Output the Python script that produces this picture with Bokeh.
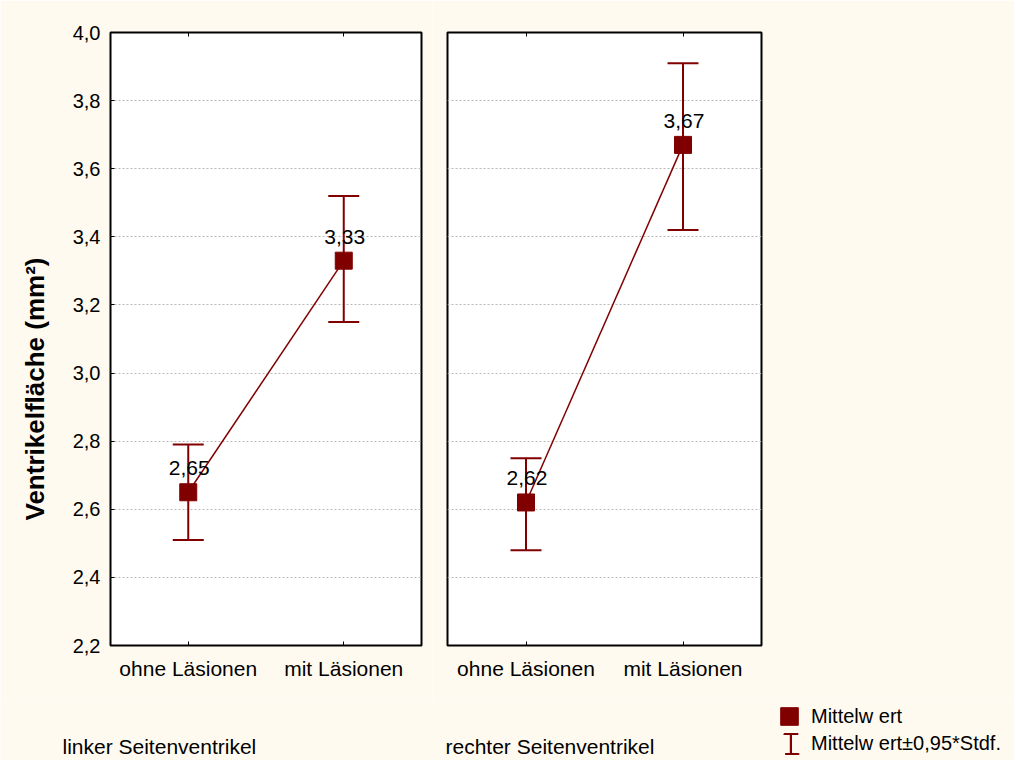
import math
from bokeh.plotting import figure
from bokeh.layouts import row, column
from bokeh.core.properties import value
from bokeh.models import (ColumnDataSource, Whisker, TeeHead, LabelSet, Label, Title,
                          FixedTicker, CustomJSTickFormatter, CategoricalAxis, Legend,
                          LegendItem, FactorRange, Range1d)
from bokeh.embed import file_html
from bokeh.resources import INLINE

# ---------------- data ----------------
categories = ["ohne Läsionen", "mit Läsionen"]
left_mean = [2.65, 3.33]
left_upper = [2.79, 3.52]
left_lower = [2.51, 3.15]
right_mean = [2.62, 3.67]
right_upper = [2.75, 3.91]
right_lower = [2.48, 3.42]
panel_titles = ["linker Seitenventrikel", "rechter Seitenventrikel"]
y_ticks = [2.2, 2.4, 2.6, 2.8, 3.0, 3.2, 3.4, 3.6, 3.8, 4.0]
y_label = "Ventrikelfläche (mm²)"
legend_labels = ["Mittelw ert", "Mittelw ert±0,95*Stdf."]

# ---------------- style ----------------
FONT = "Liberation Sans"
CREAM = "#FFFAF0"
RED = "#800000"
H = 700          # height of the two panels' figures
BT, BB = 32, 55
STRIP_H = 60     # bottom strip with panel names and legend
TOTAL_W = 1014


def make_panel(mean, upper, lower, bl, fw, br, show_y):
    src = ColumnDataSource(dict(
        x=categories, mean=mean, upper=upper, lower=lower,
        label=[f"{v:.2f}".replace(".", ",") for v in mean]))
    p = figure(x_range=FactorRange(*categories), y_range=Range1d(y_ticks[0], y_ticks[-1]),
               width=bl + fw + br, height=H, output_backend="svg", toolbar_location=None,
               min_border_left=bl, min_border_right=br, min_border_top=BT,
               min_border_bottom=BB, background_fill_color="white",
               border_fill_color=CREAM, outline_line_color="black", outline_line_width=2)
    p.xgrid.visible = False
    p.ygrid.ticker = FixedTicker(ticks=y_ticks)
    p.ygrid.grid_line_color = "#b8b8b8"
    p.ygrid.grid_line_dash = "2 2"
    p.ygrid.grid_line_width = 1

    p.xaxis.axis_line_color = None
    p.xaxis.major_tick_in = 4
    p.xaxis.major_tick_out = 0
    p.xaxis.major_tick_line_color = "black"
    p.xaxis.major_label_text_font = FONT
    p.xaxis.major_label_text_font_size = "21px"
    p.xaxis.major_label_text_color = "black"
    p.xaxis.major_label_standoff = 11

    # top axis: inward ticks only
    top = CategoricalAxis(major_tick_in=4, major_tick_out=0, axis_line_color=None,
                          major_label_standoff=0, major_label_text_color=None,
                          major_label_text_font_size="10px")
    p.add_layout(top, "above")

    if show_y:
        p.yaxis.ticker = FixedTicker(ticks=y_ticks)
        p.yaxis.formatter = CustomJSTickFormatter(
            code="return tick.toFixed(1).replace('.', ',');")
        p.yaxis.axis_line_color = None
        p.yaxis.major_tick_in = 4
        p.yaxis.major_tick_out = 0
        p.yaxis.minor_tick_line_color = None
        p.yaxis.major_label_text_font = FONT
        p.yaxis.major_label_text_font_size = "20px"
        p.yaxis.major_label_text_color = "black"
        p.yaxis.major_label_standoff = 10
        yt = Title(text=y_label, align="left", vertical_align="middle", offset=125,
                   standoff=37, text_font=FONT, text_font_size="26px",
                   text_font_style="bold", text_color="black")
        p.add_layout(yt, "left")
    else:
        p.yaxis.visible = False

    p.add_layout(Whisker(base="x", upper="upper", lower="lower", source=src,
                         line_color=RED, line_width=2,
                         upper_head=TeeHead(size=31, line_color=RED, line_width=2),
                         lower_head=TeeHead(size=31, line_color=RED, line_width=2)))
    p.line(x="x", y="mean", source=src, line_color=RED, line_width=1.5)
    p.scatter(x="x", y="mean", source=src, marker="square", size=17,
              fill_color=RED, line_color=RED)
    p.add_layout(LabelSet(x="x", y="mean", text="label", source=src, y_offset=24,
                          x_offset=1, text_align="center", text_baseline="middle",
                          text_font=value(FONT), text_font_size=value("21px"),
                          text_color="black"))
    return p, src


p1, s1 = make_panel(left_mean, left_upper, left_lower, 105, 316, 12, True)
p2, s2 = make_panel(right_mean, right_upper, right_lower, 14, 314, TOTAL_W - 433 - 14 - 314,
                    False)

# bottom strip: panel names and legend (inside its own frame)
p4 = figure(width=TOTAL_W, height=STRIP_H, x_range=Range1d(y_ticks[0], y_ticks[-1]),
            y_range=Range1d(y_ticks[0], y_ticks[-1]), output_backend="svg",
            toolbar_location=None, min_border=0, outline_line_color=None,
            x_axis_location=None, y_axis_location=None,
            background_fill_color=CREAM, border_fill_color=CREAM)
p4.grid.visible = False

for txt, x0 in zip(panel_titles, [62, 445]):
    p4.add_layout(Label(x=x0, y=14, x_units="screen", y_units="screen", text=txt,
                        text_align="left", text_baseline="middle", text_font=FONT,
                        text_font_size="21px", text_color="black"))

leg_sq = p4.scatter(x="mean", y="mean", source=s2, marker="square",
                    fill_color=RED, line_color=RED, visible=False)
leg_caps = p4.vbar(x="mean", top="upper", bottom="lower", width=0.1, source=s2,
                   fill_color=None, line_color=RED, line_width=2, line_dash="14 20",
                   visible=False)
leg_bar = p4.vbar(x="mean", top="upper", bottom="lower", width=0.1, source=s2,
                  fill_color=RED, line_color=None, visible=False)

common = dict(background_fill_alpha=0, border_line_color=None, padding=0, margin=0,
              label_text_font=FONT, label_text_font_size="20px", label_height=20)
legA = Legend(items=[LegendItem(label=legend_labels[0], renderers=[leg_sq])],
              location=(767, 22), glyph_width=44, glyph_height=44, label_standoff=0,
              label_text_color="black", **common)
legB = Legend(items=[LegendItem(label=legend_labels[1], renderers=[leg_caps])],
              location=(782, 4), glyph_width=18, glyph_height=25, label_standoff=11,
              label_text_color="black", **common)
# vertical stroke of the error-bar symbol (no text of its own)
legC = Legend(items=[LegendItem(label=value(""), renderers=[leg_bar])],
              location=(789, 4), glyph_width=3, glyph_height=25, label_standoff=0,
              label_width=0, label_text_color=None, **common)
p4.add_layout(legA)
p4.add_layout(legB)
p4.add_layout(legC)

layout = column(row(p1, p2), p4)
open("out.html", "w").write(file_html(layout, INLINE))
